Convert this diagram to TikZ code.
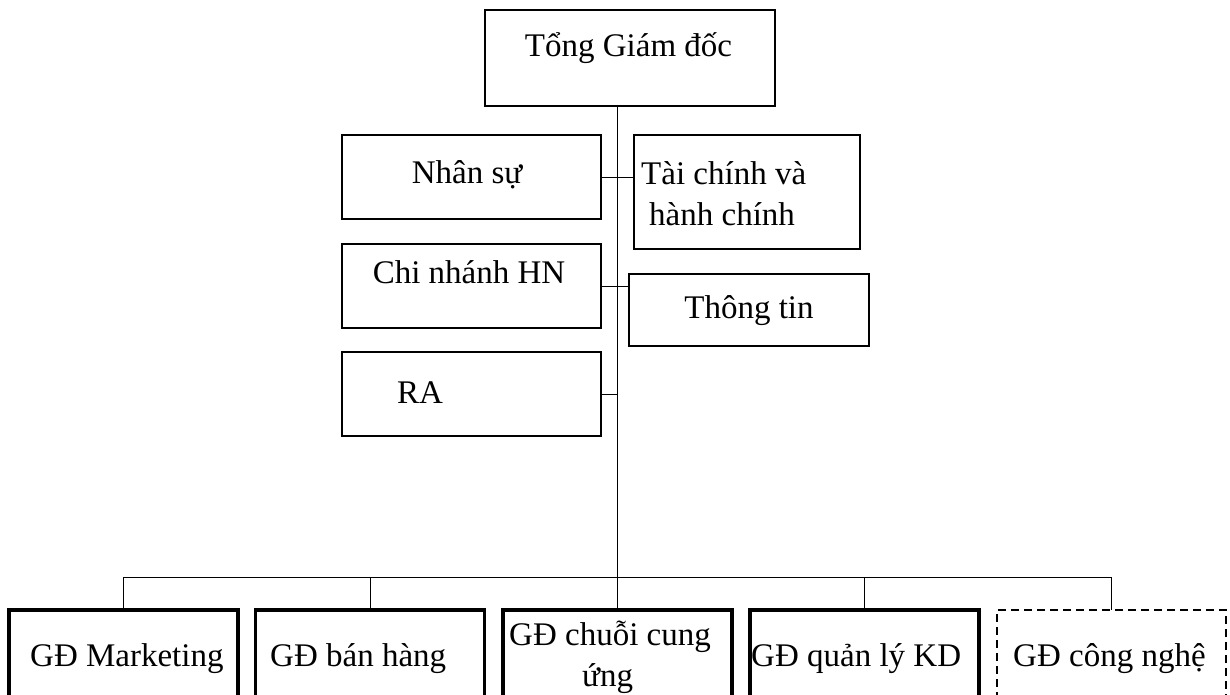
\documentclass[tikz,border=0pt]{standalone}
\usepackage{fontspec}
\setmainfont{Liberation Serif}
\begin{document}
\begin{tikzpicture}[x=1pt,y=-1pt,
  box/.style={draw,line width=2pt,inner sep=0pt,outer sep=0pt},
  director/.style={draw,line width=3.8pt,inner sep=0pt,outer sep=0pt,
    minimum width=229pt,minimum height=110pt},
  planned/.style={director,line width=2.4pt,dash pattern=on 8pt off 5pt},
  link/.style={line width=1pt},
  label/.style={inner sep=0pt,font=\fontsize{33}{41}\selectfont}
]
\useasboundingbox (0,0) rectangle (1230,694);
\clip (0,0) rectangle (1230,694);

% head office and staff departments
\node[box,minimum width=290pt,minimum height=96pt] (tgd) at (630,58) {};
\node[box,minimum width=259pt,minimum height=84pt] (ns) at (471.5,177) {};
\node[box,minimum width=226pt,minimum height=114pt] (tc) at (747,192) {};
\node[box,minimum width=259pt,minimum height=84pt] (cn) at (471.5,286) {};
\node[box,minimum width=240pt,minimum height=72pt] (tt) at (749,310) {};
\node[box,minimum width=259pt,minimum height=84pt] (ra) at (471.5,394) {};

% line directors
\node[director] (mk) at (123.5,665) {};
\node[director] (bh) at (370,665) {};
\node[director] (cc) at (617.5,665) {};
\node[director] (ql) at (864.5,665) {};
\node[planned] (cng) at (1111.5,665) {};

% connectors
\coordinate (bus) at (0,577);
\draw[link] (tgd.south -| cc.north) -- (cc.north);
\draw[link] (mk.north |- bus) -- (cng.north |- bus);
\foreach \b in {mk,bh,ql,cng}
  \draw[link] (\b.north) -- (\b.north |- bus);
\draw[link] (ns.east) -- (ns.east -| tc.west);
\draw[link] (cn.east) -- (cn.east -| tt.west);
\draw[link] (ra.east) -- (ra.east -| cc.north);

% texts
\node[label,anchor=base] (ttgd) at (628.5,56) {Tổng Giám đốc};
\node[label,anchor=base] (tns) at (467,183) {Nhân sự};
\node[label,anchor=base west] (ttc1) at (641,184) {Tài chính và};
\node[label,anchor=base west] (ttc2) at (649,225) {hành chính};
\node[label,anchor=base] (tcn) at (469,283) {Chi nhánh HN};
\node[label,anchor=base] (ttt) at (749,318) {Thông tin};
\node[label,anchor=base west] (tra) at (397,403) {RA};
\node[label,anchor=base west] (tmk) at (30,666) {GĐ Marketing};
\node[label,anchor=base west] (tbh) at (270,666) {GĐ bán hàng};
\node[label,anchor=base west] (tcc1) at (509,645) {GĐ chuỗi cung};
\node[label,anchor=base west] (tcc2) at (582,686) {ứng};
\node[label,anchor=base west] (tql) at (751,666) {GĐ quản lý KD};
\node[label,anchor=base west] (tcng) at (1013,666) {GĐ công nghệ};
\end{tikzpicture}
\end{document}
